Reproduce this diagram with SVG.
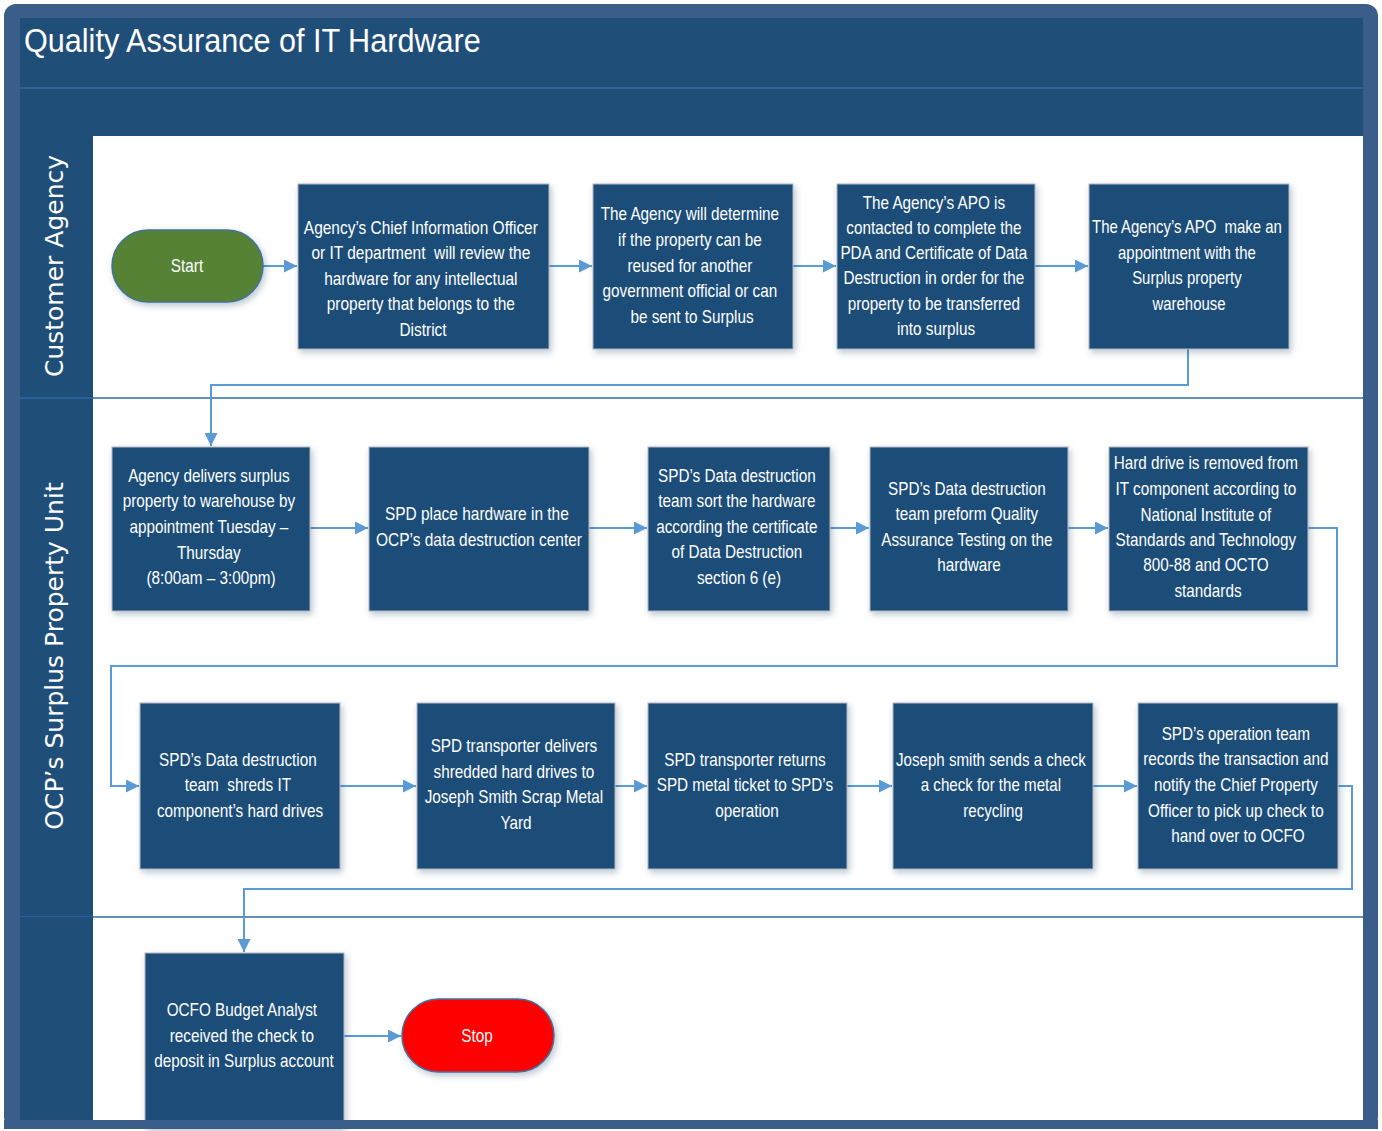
<svg xmlns="http://www.w3.org/2000/svg" width="1382" height="1131" viewBox="0 0 1382 1131">
  <style>
    .frame { fill: #3a5d8a; }
    .band { fill: #1f4e79; }
    .lane { fill: #ffffff; }
    .sep { stroke: #2e6aa6; stroke-width: 1.5; fill: none; }
    .sep-lite { stroke: #3d6c9c; stroke-width: 1.5; fill: none; }
    .box { fill: #1f4e79; stroke: #b0b7c0; stroke-width: 1; filter: url(#shadow); }
    .btxt { font-family: "Liberation Sans", Arial, sans-serif; font-size: 18px; fill: #ffffff; text-anchor: middle; }
    .lane-label { font-family: "DejaVu Sans", Verdana, sans-serif; font-size: 25px; fill: #ffffff; text-anchor: middle; }
    .title { font-family: "Liberation Sans", Arial, sans-serif; font-size: 34px; fill: #ffffff; }
    .conn { stroke: #5b9bd5; stroke-width: 2; fill: none; marker-end: url(#arrow); }
    .start { fill: #548235; stroke: #41719c; stroke-width: 1.5; filter: url(#shadow); }
    .stop { fill: #ff0000; stroke: #41719c; stroke-width: 1.5; filter: url(#shadow); }
  </style>
  <defs>
    <filter id="shadow" x="-10%" y="-10%" width="130%" height="130%">
      <feDropShadow dx="2" dy="3" stdDeviation="3" flood-color="#1f3f66" flood-opacity="0.3"/>
    </filter>
    <marker id="arrow" viewBox="0 0 12 12" refX="12" refY="6" markerWidth="13" markerHeight="13" markerUnits="userSpaceOnUse" orient="auto">
      <path d="M0,0 L12,6 L0,12 z" fill="#5b9bd5"/>
    </marker>
  </defs>

  <!-- outer frame and header bands -->
  <rect class="frame" x="4" y="4" width="1374" height="1125" rx="12"/>
  <rect class="band" x="20" y="18" width="1343" height="1102"/>
  <line x1="20" y1="88" x2="1363" y2="88" class="sep-lite"/>
  <g transform="translate(24 52) scale(0.9 1)">
    <text class="title" x="0" y="0">Quality Assurance of IT Hardware</text>
  </g>

  <!-- swimlane bodies -->
  <rect class="lane" x="93" y="136" width="1270" height="984"/>
  <line x1="20" y1="398" x2="1363" y2="398" class="sep"/>
  <line x1="20" y1="917" x2="1363" y2="917" class="sep"/>

  <!-- lane labels -->
  <text class="lane-label" transform="translate(63 266) rotate(-90)" x="0" y="0">Customer Agency</text>
  <text class="lane-label" transform="translate(63 656) rotate(-90)" x="0" y="0">OCP’s Surplus Property Unit</text>
  <text class="lane-label" transform="translate(63 1036) rotate(-90)" x="0" y="0">OCFO</text>

  <!-- connectors -->
  <g id="connectors">
    <line class="conn" x1="263" y1="266" x2="297" y2="266"/>
    <line class="conn" x1="549" y1="266" x2="592" y2="266"/>
    <line class="conn" x1="793" y1="266" x2="836" y2="266"/>
    <line class="conn" x1="1035" y1="266" x2="1088" y2="266"/>
    <polyline class="conn" points="1188,349 1188,385 211,385 211,446"/>
    <line class="conn" x1="310" y1="528" x2="368" y2="528"/>
    <line class="conn" x1="589" y1="528" x2="647" y2="528"/>
    <line class="conn" x1="830" y1="528" x2="869" y2="528"/>
    <line class="conn" x1="1068" y1="528" x2="1108" y2="528"/>
    <polyline class="conn" points="1308,528 1337,528 1337,666 111,666 111,786 139,786"/>
    <line class="conn" x1="340" y1="786" x2="416" y2="786"/>
    <line class="conn" x1="615" y1="786" x2="647" y2="786"/>
    <line class="conn" x1="847" y1="786" x2="892" y2="786"/>
    <line class="conn" x1="1093" y1="786" x2="1137" y2="786"/>
    <polyline class="conn" points="1338,786 1352,786 1352,889 244,889 244,952"/>
    <line class="conn" x1="344" y1="1036" x2="401" y2="1036"/>
  </g>

  <!-- Customer Agency lane -->
  <g id="start">
    <rect class="start" x="112" y="230" width="151" height="72" rx="36"/>
    <g transform="translate(187 0) scale(0.85 1)"><text class="btxt" x="0" y="272">Start</text></g>
  </g>
  <g id="review-ip">
    <rect class="box" x="298" y="184" width="251" height="165"/>
    <g transform="translate(423 0) scale(0.86 1)"><text class="btxt">
      <tspan x="0" y="234">Agency’s Chief Information Officer</tspan>
      <tspan x="0" y="259">or IT department&#160; will review the</tspan>
      <tspan x="0" y="285">hardware for any intellectual</tspan>
      <tspan x="0" y="310">property that belongs to the</tspan>
      <tspan x="0" y="336">District</tspan>
    </text></g>
  </g>
  <g id="determine-reuse">
    <rect class="box" x="593" y="184" width="200" height="165"/>
    <g transform="translate(692 0) scale(0.85 1)"><text class="btxt">
      <tspan x="0" y="220">The Agency will determine</tspan>
      <tspan x="0" y="246">if the property can be</tspan>
      <tspan x="0" y="272">reused for another</tspan>
      <tspan x="0" y="297">government official or can</tspan>
      <tspan x="0" y="323">be sent to Surplus</tspan>
    </text></g>
  </g>
  <g id="contact-apo">
    <rect class="box" x="837" y="184" width="198" height="165"/>
    <g transform="translate(936 0) scale(0.85 1)"><text class="btxt">
      <tspan x="0" y="209">The Agency’s APO is</tspan>
      <tspan x="0" y="234">contacted to complete the</tspan>
      <tspan x="0" y="259">PDA and Certificate of Data</tspan>
      <tspan x="0" y="284">Destruction in order for the</tspan>
      <tspan x="0" y="310">property to be transferred</tspan>
      <tspan x="0" y="335">into surplus</tspan>
    </text></g>
  </g>
  <g id="make-appointment">
    <rect class="box" x="1089" y="184" width="200" height="165"/>
    <g transform="translate(1189 0) scale(0.83 1)"><text class="btxt">
      <tspan x="0" y="233">The Agency’s APO&#160; make an</tspan>
      <tspan x="0" y="259">appointment with the</tspan>
      <tspan x="0" y="284">Surplus property</tspan>
      <tspan x="0" y="310">warehouse</tspan>
    </text></g>
  </g>

  <!-- OCP's Surplus Property Unit lane, first row -->
  <g id="deliver-surplus">
    <rect class="box" x="112" y="447" width="198" height="164"/>
    <g transform="translate(211 0) scale(0.85 1)"><text class="btxt">
      <tspan x="0" y="482">Agency delivers surplus</tspan>
      <tspan x="0" y="507">property to warehouse by</tspan>
      <tspan x="0" y="533">appointment Tuesday –</tspan>
      <tspan x="0" y="559">Thursday</tspan>
      <tspan x="0" y="584">(8:00am – 3:00pm)</tspan>
    </text></g>
  </g>
  <g id="place-hardware">
    <rect class="box" x="369" y="447" width="220" height="164"/>
    <g transform="translate(479 0) scale(0.86 1)"><text class="btxt">
      <tspan x="0" y="520">SPD place hardware in the</tspan>
      <tspan x="0" y="546">OCP’s data destruction center</tspan>
    </text></g>
  </g>
  <g id="sort-hardware">
    <rect class="box" x="648" y="447" width="182" height="164"/>
    <g transform="translate(739 0) scale(0.85 1)"><text class="btxt">
      <tspan x="0" y="482">SPD’s Data destruction</tspan>
      <tspan x="0" y="507">team sort the hardware</tspan>
      <tspan x="0" y="533">according the certificate</tspan>
      <tspan x="0" y="558">of Data Destruction</tspan>
      <tspan x="0" y="584">section 6 (e)</tspan>
    </text></g>
  </g>
  <g id="qa-testing">
    <rect class="box" x="870" y="447" width="198" height="164"/>
    <g transform="translate(969 0) scale(0.85 1)"><text class="btxt">
      <tspan x="0" y="495">SPD’s Data destruction</tspan>
      <tspan x="0" y="520">team preform Quality</tspan>
      <tspan x="0" y="546">Assurance Testing on the</tspan>
      <tspan x="0" y="571">hardware</tspan>
    </text></g>
  </g>
  <g id="remove-drive">
    <rect class="box" x="1109" y="447" width="199" height="164"/>
    <g transform="translate(1208 0) scale(0.85 1)"><text class="btxt">
      <tspan x="0" y="469">Hard drive is removed from</tspan>
      <tspan x="0" y="495">IT component according to</tspan>
      <tspan x="0" y="521">National Institute of</tspan>
      <tspan x="0" y="546">Standards and Technology</tspan>
      <tspan x="0" y="571">800-88 and OCTO</tspan>
      <tspan x="0" y="597">standards</tspan>
    </text></g>
  </g>

  <!-- OCP's Surplus Property Unit lane, second row -->
  <g id="shred-drives">
    <rect class="box" x="140" y="703" width="200" height="166"/>
    <g transform="translate(240 0) scale(0.85 1)"><text class="btxt">
      <tspan x="0" y="766">SPD’s Data destruction</tspan>
      <tspan x="0" y="791">team&#160; shreds IT</tspan>
      <tspan x="0" y="817">component’s hard drives</tspan>
    </text></g>
  </g>
  <g id="deliver-scrap">
    <rect class="box" x="417" y="703" width="198" height="166"/>
    <g transform="translate(516 0) scale(0.85 1)"><text class="btxt">
      <tspan x="0" y="752">SPD transporter delivers</tspan>
      <tspan x="0" y="778">shredded hard drives to</tspan>
      <tspan x="0" y="803">Joseph Smith Scrap Metal</tspan>
      <tspan x="0" y="829">Yard</tspan>
    </text></g>
  </g>
  <g id="return-ticket">
    <rect class="box" x="648" y="703" width="199" height="166"/>
    <g transform="translate(747 0) scale(0.85 1)"><text class="btxt">
      <tspan x="0" y="766">SPD transporter returns</tspan>
      <tspan x="0" y="791">SPD metal ticket to SPD’s</tspan>
      <tspan x="0" y="817">operation</tspan>
    </text></g>
  </g>
  <g id="send-check">
    <rect class="box" x="893" y="703" width="200" height="166"/>
    <g transform="translate(993 0) scale(0.84 1)"><text class="btxt">
      <tspan x="0" y="766">Joseph smith sends a check</tspan>
      <tspan x="0" y="791">a check for the metal</tspan>
      <tspan x="0" y="817">recycling</tspan>
    </text></g>
  </g>
  <g id="record-transaction">
    <rect class="box" x="1138" y="703" width="200" height="166"/>
    <g transform="translate(1238 0) scale(0.85 1)"><text class="btxt">
      <tspan x="0" y="740">SPD’s operation team</tspan>
      <tspan x="0" y="765">records the transaction and</tspan>
      <tspan x="0" y="791">notify the Chief Property</tspan>
      <tspan x="0" y="817">Officer to pick up check to</tspan>
      <tspan x="0" y="842">hand over to OCFO</tspan>
    </text></g>
  </g>

  <!-- OCFO lane -->
  <g id="deposit-check">
    <rect class="box" x="145" y="953" width="199" height="175"/>
    <g transform="translate(244 0) scale(0.85 1)"><text class="btxt">
      <tspan x="0" y="1016">OCFO Budget Analyst</tspan>
      <tspan x="0" y="1042">received the check to</tspan>
      <tspan x="0" y="1067">deposit in Surplus account</tspan>
    </text></g>
  </g>
  <g id="stop">
    <rect class="stop" x="402" y="999" width="152" height="73" rx="36.5"/>
    <g transform="translate(477 0) scale(0.85 1)"><text class="btxt" x="0" y="1042">Stop</text></g>
  </g>

  <!-- bottom edge of the frame over the last lane -->
  <rect class="frame" x="4" y="1120" width="1374" height="9"/>
  <rect class="band" x="20" y="917" width="73" height="203"/>
</svg>
